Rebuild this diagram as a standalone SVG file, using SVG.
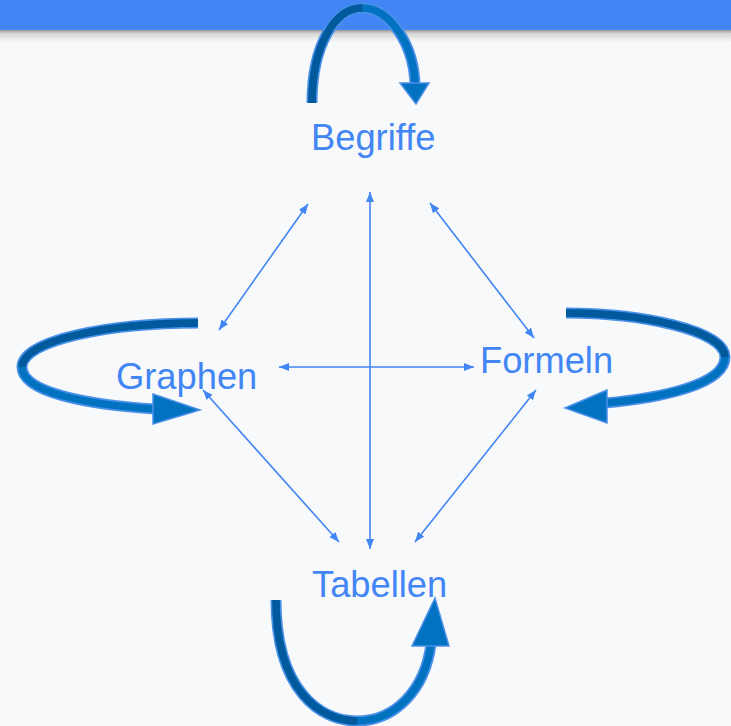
<svg xmlns="http://www.w3.org/2000/svg" width="731" height="726" viewBox="0 0 731 726">
<defs>
<linearGradient id="shadow" x1="0" y1="0" x2="0" y2="1">
<stop offset="0" stop-color="#9a9a9a"/>
<stop offset="0.3" stop-color="#d6d6d6"/>
<stop offset="1" stop-color="#f8f9fa"/>
</linearGradient>
<marker id="ah" viewBox="0 0 10 8" refX="10" refY="4" markerWidth="10" markerHeight="8" markerUnits="userSpaceOnUse" orient="auto-start-reverse">
<path d="M0,0 L10,4 L0,8 Z" fill="#4285f4"/>
</marker>
<style>
.lbl{font-family:"Liberation Sans",Arial,sans-serif;font-size:36.3px;fill:#4285f4}
.con{stroke:#4285f4;stroke-width:1.6;fill:none;marker-start:url(#ah);marker-end:url(#ah)}
.bo{fill:none;stroke:#4a90e8;stroke-width:11}
.bd{fill:none;stroke:#005a9c;stroke-width:7.5}
.bm{fill:none;stroke:#0072c0;stroke-width:7.5}
.hd{fill:#0072c0;stroke:#4a90e8;stroke-width:1.5;stroke-linejoin:miter}
</style>
</defs>
<rect width="731" height="726" fill="#f8f9fa"/>
<rect x="0" y="30" width="731" height="12" fill="url(#shadow)"/>
<rect x="0" y="0" width="731" height="30" fill="#4285f4"/>

<g id="connectors">
<line class="con" x1="308" y1="204" x2="219" y2="330"/>
<line class="con" x1="370" y1="192" x2="370" y2="549"/>
<line class="con" x1="430" y1="203" x2="534" y2="338"/>
<line class="con" x1="279" y1="367" x2="474" y2="367"/>
<line class="con" x1="203" y1="390" x2="339" y2="542"/>
<line class="con" x1="536" y1="390" x2="415" y2="542"/>
</g>

<g id="loop-begriffe">
<path class="bo" d="M312,103 C312,45 335,8 362,8 C390,8 414,45 415,85"/>
<path class="bm" d="M312,103 C312,45 335,8 362,8 C390,8 414,45 415,85"/>
<path class="bd" d="M312,103 C312,45 335,8 362,8"/>
<path class="hd" d="M400,83 L429,83 L416,104 Z"/>
</g>

<g id="loop-graphen">
<path class="bo" d="M198,323 C110,323 22,340 22,367 C22,393 90,405 156,409"/>
<path class="bm" d="M198,323 C110,323 22,340 22,367 C22,393 90,405 156,409"/>
<path class="bd" d="M198,323 C110,323 22,340 22,367"/>
<path class="hd" d="M153,394 L200,410 L153,424 Z"/>
</g>

<g id="loop-formeln">
<path class="bo" d="M566,313 C640,313 725,330 725,357 C725,385 660,398 605,403"/>
<path class="bm" d="M566,313 C640,313 725,330 725,357 C725,385 660,398 605,403"/>
<path class="bd" d="M566,313 C640,313 725,330 725,357"/>
<path class="hd" d="M607,390 L565,408 L607,423 Z"/>
</g>

<g id="loop-tabellen">
<path class="bo" d="M276,600 C276,690 320,721 357,721 C395,721 425,690 431,644"/>
<path class="bm" d="M276,600 C276,690 320,721 357,721 C395,721 425,690 431,644"/>
<path class="bd" d="M276,600 C276,690 320,721 357,721"/>
<path class="hd" d="M412,646 L449,646 L435,598 Z"/>
</g>

<g id="node-begriffe"><text class="lbl" x="311" y="150">Begriffe</text></g>
<g id="node-graphen"><text class="lbl" x="116" y="389">Graphen</text></g>
<g id="node-formeln"><text class="lbl" x="480" y="373">Formeln</text></g>
<g id="node-tabellen"><text class="lbl" x="312" y="597">Tabellen</text></g>
</svg>
